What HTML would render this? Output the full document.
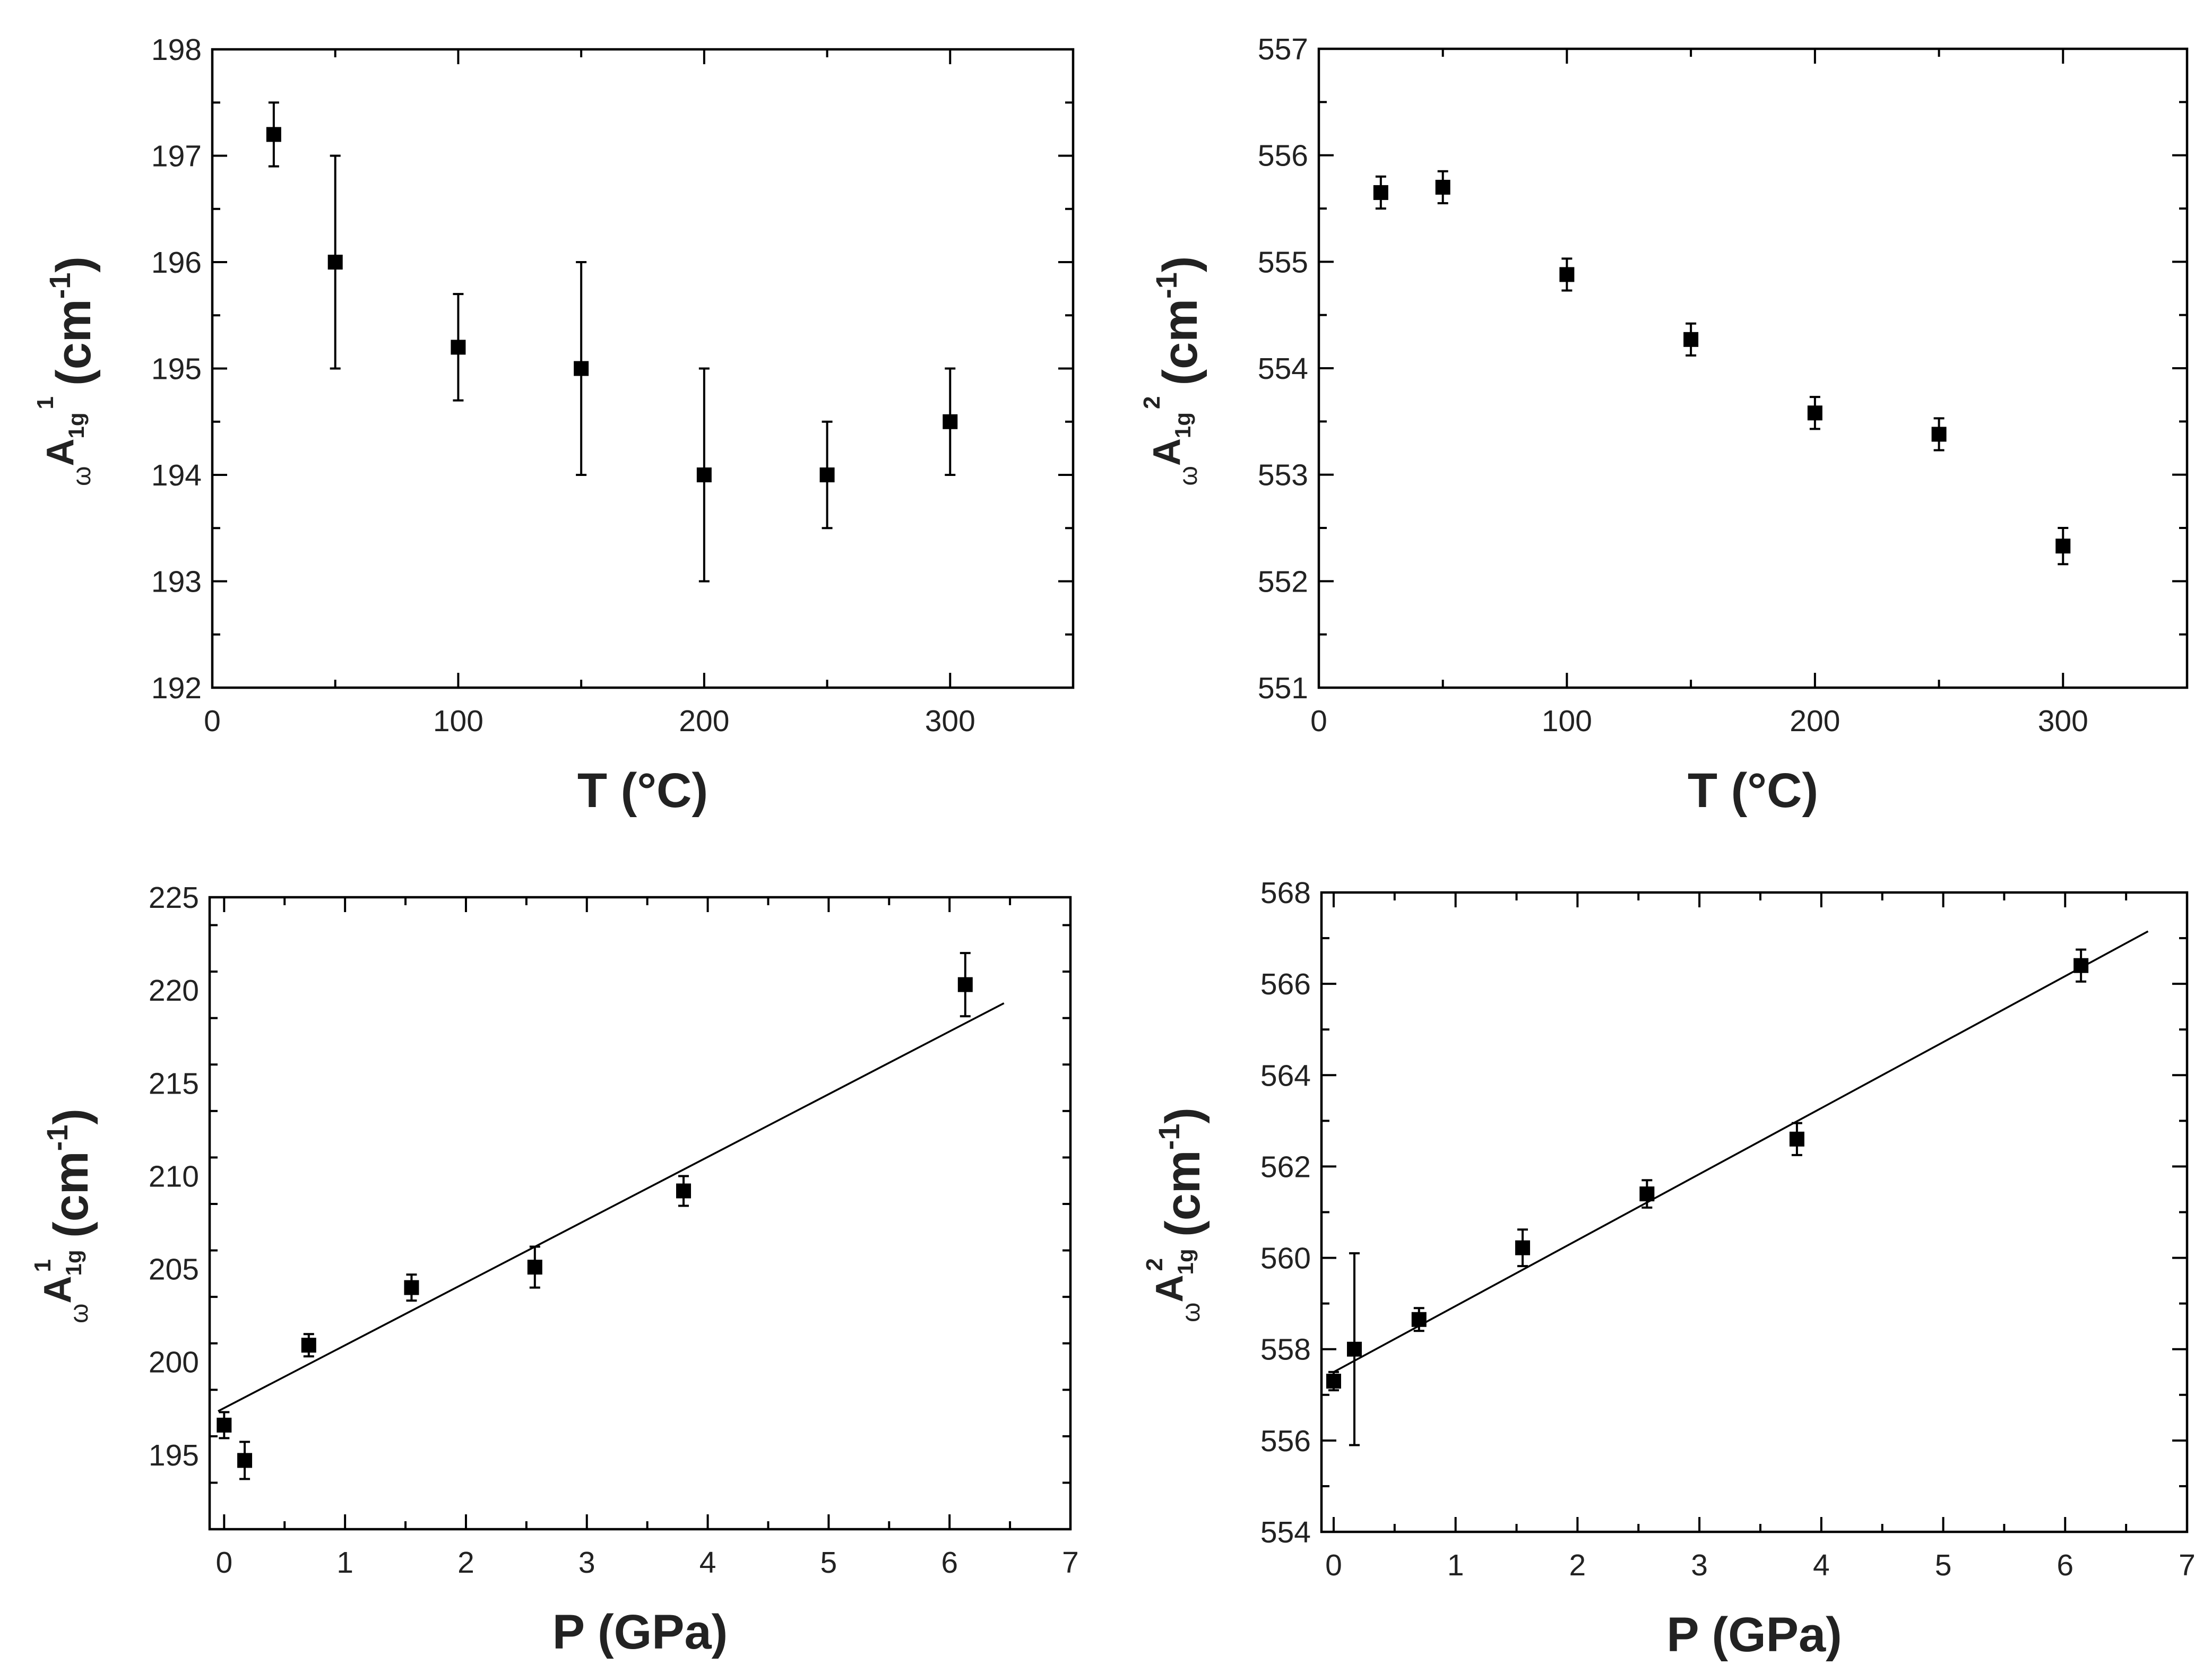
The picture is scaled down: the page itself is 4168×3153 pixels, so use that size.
<!DOCTYPE html>
<html><head><meta charset="utf-8"><style>
html,body{margin:0;padding:0;background:#fff}
svg{display:block}
text{font-family:"Liberation Sans",sans-serif}
</style></head><body>
<svg id="fig" width="4168" height="3153" viewBox="0 0 4168 3153" xmlns="http://www.w3.org/2000/svg"></svg>
<script>
// ---- data ----
const tempX = [25, 50, 100, 150, 200, 250, 300];
const a1T = [197.2, 196.0, 195.2, 195.0, 194.0, 194.0, 194.5];
const a1TErr = [0.3, 1.0, 0.5, 1.0, 1.0, 0.5, 0.5];
const a2T = [555.65, 555.7, 554.88, 554.27, 553.58, 553.38, 552.33];
const a2TErr = [0.15, 0.15, 0.15, 0.15, 0.15, 0.15, 0.17];
const presX = [0, 0.17, 0.7, 1.55, 2.57, 3.8, 6.13];
const a1P = [196.6, 194.7, 200.9, 204.0, 205.1, 209.2, 220.3];
const a1PErr = [0.7, 1.0, 0.6, 0.7, 1.1, 0.8, 1.7];
const a2P = [557.3, 558.0, 558.65, 560.22, 561.4, 562.6, 566.4];
const a2PErr = [0.2, 2.1, 0.25, 0.4, 0.3, 0.35, 0.35];
const fit1P = [[-0.05, 197.35], [6.45, 219.3]];
const fit2P = [[0.0, 557.5], [6.68, 567.15]];
const tempTicks = [0, 100, 200, 300];
const presTicks = [0, 1, 2, 3, 4, 5, 6, 7];
const ticks1T = [192, 193, 194, 195, 196, 197, 198];
const ticks2T = [551, 552, 553, 554, 555, 556, 557];
const ticks1P = [195, 200, 205, 210, 215, 220, 225];
const ticks2P = [554, 556, 558, 560, 562, 564, 566, 568];

const NS = "http://www.w3.org/2000/svg";
const svg = document.getElementById('fig');
function el(tag, attrs, parent) {
  const e = document.createElementNS(NS, tag);
  for (const k in attrs) e.setAttribute(k, attrs[k]);
  (parent || svg).appendChild(e);
  return e;
}

function panel(cfg) {
  const g = el('g', {});
  
  
  const {x0, x1, y0, y1, xmin, xmax, ymin, ymax} = cfg;
  const sx = v => x0 + (v - xmin) / (xmax - xmin) * (x1 - x0);
  const sy = v => y1 - (v - ymin) / (ymax - ymin) * (y1 - y0);
  const box = el('rect', {x: x0, y: y0, width: x1 - x0, height: y1 - y0, fill: 'none', stroke: '#000', 'stroke-width': 4.5}, g);
  
  
  for (let v = cfg.xMinorStart; v <= xmax + 1e-9; v += cfg.xMinor) {
    if (v < xmin - 1e-9) continue;
    const isMajor = cfg.xTicks.some(t => Math.abs(t - v) < 1e-6);
    const L = isMajor ? 28 : 15;
    const X = sx(v);
    el('line', {x1: X, x2: X, y1: y1, y2: y1 - L, stroke: '#000', 'stroke-width': 4}, g);
    el('line', {x1: X, x2: X, y1: y0, y2: y0 + L, stroke: '#000', 'stroke-width': 4}, g);
  }
  cfg.xTicks.forEach(t => {
    const tx = el('text', {x: sx(t), y: y1 + 82, 'font-size': 57, 'text-anchor': 'middle', fill: '#222'}, g);
    tx.textContent = t;
    
    
  });
  for (let v = ymin; v <= ymax + 1e-9; v += cfg.yMinor) {
    const isMajor = cfg.yTicks.some(t => Math.abs(t - v) < 1e-6);
    const L = isMajor ? 28 : 15;
    const Y = sy(v);
    el('line', {x1: x0, x2: x0 + L, y1: Y, y2: Y, stroke: '#000', 'stroke-width': 4}, g);
    el('line', {x1: x1, x2: x1 - L, y1: Y, y2: Y, stroke: '#000', 'stroke-width': 4}, g);
  }
  cfg.yTicks.forEach(t => {
    const ty = el('text', {x: x0 - 20, y: sy(t) + 20, 'font-size': 57, 'text-anchor': 'end', fill: '#222'}, g);
    ty.textContent = t;
    
    
  });
  if (cfg.fit) {
    const fl = el('line', {x1: sx(cfg.fit[0][0]), y1: sy(cfg.fit[0][1]), x2: sx(cfg.fit[1][0]), y2: sy(cfg.fit[1][1]), stroke: '#000', 'stroke-width': 3.5}, g);
    
    
  }
  cfg.xs.forEach((xv, i) => {
    const X = sx(xv), Y = sy(cfg.ys[i]);
    const yt = sy(cfg.ys[i] + cfg.err[i]), yb = sy(cfg.ys[i] - cfg.err[i]);
    const eb = el('path', {d: `M${X},${yt}V${yb}M${X - 10},${yt}H${X + 10}M${X - 10},${yb}H${X + 10}`, stroke: '#000', 'stroke-width': 4, fill: 'none'}, g);
    
    
    const m = el('rect', {x: X - 14, y: Y - 14, width: 28, height: 28, fill: '#000'}, g);
    
    
  });
  const xt = el('text', {x: (x0 + x1) / 2, y: y1 + 225, 'font-size': 92, 'font-weight': 'bold', 'text-anchor': 'middle', fill: '#222'}, g);
  xt.textContent = cfg.xTitle;
  
  
  const cy = (y0 + y1) / 2;
  const yt = el('text', {transform: `translate(${x0 - 230},${cy + 5}) rotate(-90)`, 'text-anchor': 'middle', fill: '#222', 'font-weight': 'bold'}, g);
  
  
  yt.innerHTML = cfg.stacked
    ? `<tspan font-size="48" font-weight="normal">ω</tspan><tspan font-size="72" dy="-32">A</tspan><tspan font-size="42" dy="20">1g</tspan><tspan font-size="44" dy="-58" dx="-42">${cfg.idx}</tspan><tspan font-size="92" dy="70" dx="40">(cm</tspan><tspan font-size="56" dy="-38">-1</tspan><tspan font-size="92" dy="38">)</tspan>`
    : `<tspan font-size="48" font-weight="normal">ω</tspan><tspan font-size="72" dy="-32">A</tspan><tspan font-size="42" dy="20">1g</tspan><tspan font-size="44" dy="-58" dx="6">${cfg.idx}</tspan><tspan font-size="92" dy="70" dx="20">(cm</tspan><tspan font-size="56" dy="-38">-1</tspan><tspan font-size="92" dy="38">)</tspan>`;
}

panel({name: 'panel-a1g-vs-temperature', x0: 400, x1: 2022, y0: 93, y1: 1296, xmin: 0, xmax: 350, ymin: 192, ymax: 198,
  xTicks: tempTicks, xMinor: 50, xMinorStart: 0, yTicks: ticks1T, yMinor: 0.5,
  xs: tempX, ys: a1T, err: a1TErr, xTitle: 'T (°C)', idx: '1'});
panel({name: 'panel-a2g-vs-temperature', x0: 2485, x1: 4121, y0: 92, y1: 1296, xmin: 0, xmax: 350, ymin: 551, ymax: 557,
  xTicks: tempTicks, xMinor: 50, xMinorStart: 0, yTicks: ticks2T, yMinor: 0.5,
  xs: tempX, ys: a2T, err: a2TErr, xTitle: 'T (°C)', idx: '2'});
panel({name: 'panel-a1g-vs-pressure', x0: 395, x1: 2017, y0: 1691, y1: 2882, xmin: -0.12, xmax: 7, ymin: 191, ymax: 225,
  xTicks: presTicks, xMinor: 0.5, xMinorStart: 0, yTicks: ticks1P, yMinor: 2.5,
  xs: presX, ys: a1P, err: a1PErr, fit: fit1P, xTitle: 'P (GPa)', idx: '1', stacked: true});
panel({name: 'panel-a2g-vs-pressure', x0: 2490, x1: 4121, y0: 1682, y1: 2887, xmin: -0.1, xmax: 7, ymin: 554, ymax: 568,
  xTicks: presTicks, xMinor: 0.5, xMinorStart: 0, yTicks: ticks2P, yMinor: 1,
  xs: presX, ys: a2P, err: a2PErr, fit: fit2P, xTitle: 'P (GPa)', idx: '2', stacked: true});
</script>
</body></html>
